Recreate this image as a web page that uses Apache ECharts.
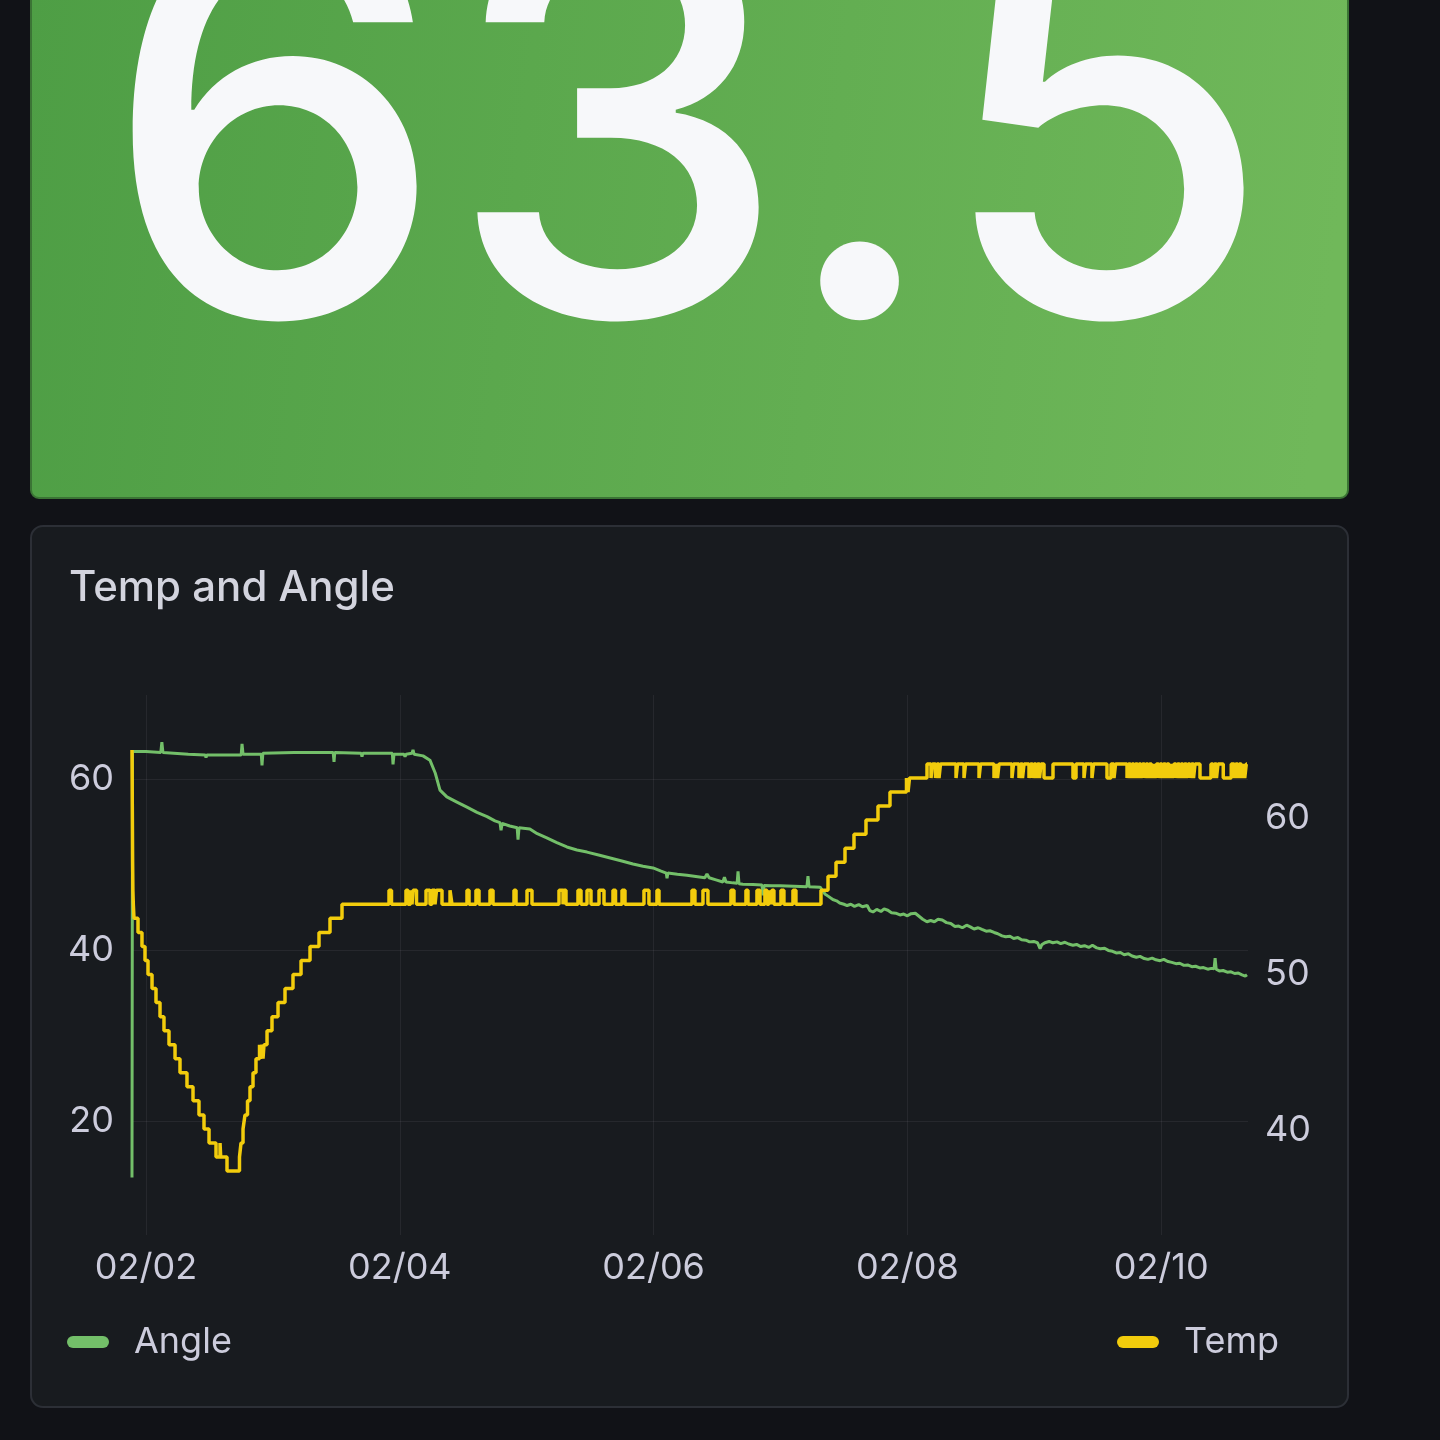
<!DOCTYPE html>
<html>
<head>
<meta charset="utf-8">
<script src="https://cdn.jsdelivr.net/npm/echarts@6/dist/echarts.min.js"></script>
<style>
html,body{margin:0;padding:0;background:#111217;}
#c{width:1440px;height:1440px;}
</style>
</head>
<body>
<div id="c"></div>
<script>
// ---- content ----
const statValue = '63.5';
const panelTitle = 'Temp and Angle';
const seriesNames = ['Angle', 'Temp'];
// x ticks: hours after 02/02 00:00
const xTickHours = [0, 48, 96, 144, 192];
const leftTicks = [20, 40, 60];
const rightTicks = [40, 50, 60];

// Angle (left axis): hours after 02/02 00:00 and values
const angleHours = [
  -2.65, -2.55, 0.0, 2.8, 3.0, 3.2, 8.0, 11.2, 11.35, 11.5, 15.0, 18.0, 18.16, 18.35,
  21.8, 21.94, 22.1, 28.0, 35.4, 35.56, 35.7, 40.7, 40.85, 41.0, 44.0, 46.6, 46.72, 46.9,
  48.8, 48.99, 49.2, 50.3, 50.5, 50.7, 52.4, 53.7, 54.7, 55.6, 56.9, 58.8, 60.7, 62.6,
  64.5, 66.0, 66.95, 67.15, 67.35, 68.8, 70.2, 70.36, 70.55,
  72.6, 74.0, 75.8, 77.7, 79.6, 81.5, 83.4, 85.6, 87.8, 90.0, 92.1, 94.0, 95.9, 97.3,
  98.4, 98.54, 98.7, 100.5, 102.3, 104.0, 105.7, 106.1, 106.5, 107.8, 109.1, 109.4, 109.7,
  111.0, 111.8, 111.97, 112.15, 112.9, 114.8, 116.5, 116.7, 116.9, 118.4, 119.9, 122.5,
  125.0, 125.2, 125.4, 127.5,
  128.0, 128.4, 129.0, 129.9, 130.6, 131.2, 132.0, 132.6, 133.3, 134.0, 134.8, 135.5,
  136.4, 136.9, 137.5, 138.2, 139.0, 139.6, 140.3, 141.0, 141.8, 142.6, 143.3, 144.0,
  144.7, 145.5, 146.2, 146.9, 147.7, 148.4, 149.1, 149.8, 150.6, 151.4, 152.2, 153.0,
  153.7, 154.4, 155.2, 155.9, 156.6, 157.4, 158.1, 158.9, 159.6, 160.4, 161.1, 161.9,
  162.6, 163.4, 164.1, 164.9, 165.6, 166.4, 167.1, 167.9, 168.6, 169.1, 169.4, 170.0,
  170.8, 171.5, 172.3, 173.0, 173.8, 174.5, 175.3, 176.0, 176.8, 177.5, 178.3, 179.0,
  179.8, 180.5, 181.3, 182.0, 182.8, 183.5, 184.3, 185.0, 185.8, 186.5, 187.3, 188.0,
  188.8, 189.5, 190.3, 191.0, 191.8, 192.5, 193.3, 194.0, 194.8, 195.5, 196.3, 197.0,
  197.8, 198.5, 199.3, 200.0, 200.8, 201.5, 202.0, 202.2, 202.4, 203.0, 203.7, 204.5,
  205.2, 205.9, 206.6, 207.3, 207.9, 208.23
];
const angleValues = [
  13.4, 63.2, 63.2, 63.1, 64.3, 63.1, 62.9, 62.8, 62.5, 62.8, 62.8, 62.8, 64.1, 62.9,
  62.9, 61.6, 63.0, 63.1, 63.1, 62.0, 63.1, 63.0, 62.6, 63.0, 63.0, 63.0, 61.7, 62.9,
  62.9, 62.6, 62.9, 63.0, 63.4, 62.9, 62.7, 62.2, 60.7, 58.7, 57.9, 57.3, 56.7, 56.1,
  55.6, 55.1, 54.9, 54.0, 54.8, 54.5, 54.3, 52.9, 54.3,
  54.15, 53.6, 53.1, 52.55, 52.05, 51.7, 51.45, 51.1, 50.75, 50.4, 50.05, 49.8, 49.6, 49.25,
  49.0, 48.4, 49.0, 48.85, 48.75, 48.6, 48.45, 48.9, 48.45, 48.2, 47.95, 48.5, 47.95,
  47.85, 47.8, 49.2, 47.75, 47.7, 47.65, 47.6, 46.4, 47.55, 47.5, 47.5, 47.45,
  47.4, 48.65, 47.4, 47.35,
  46.9, 46.55, 46.3, 45.9, 45.75, 45.5, 45.35, 45.2, 45.35, 45.1, 45.3, 45.05,
  45.2, 44.6, 44.45, 44.75, 44.5, 44.8, 44.65, 44.35, 44.3, 44.1, 44.2, 44.0,
  44.25, 44.3, 43.95, 43.6, 43.3, 43.45, 43.3, 43.6, 43.5, 43.2, 43.1, 42.75,
  42.8, 42.6, 42.9, 42.7, 42.45, 42.6, 42.4, 42.2, 42.25, 42.05, 41.9, 41.65,
  41.55, 41.6, 41.35, 41.45, 41.2, 41.15, 40.95, 41.0, 40.85, 40.15, 40.6, 40.85,
  41.0, 40.85, 40.95, 40.75, 40.9, 40.7, 40.55, 40.65, 40.4, 40.5, 40.3, 40.55,
  40.25, 40.15, 40.2, 39.95, 39.85, 39.65, 39.7, 39.45, 39.55, 39.3, 39.15, 39.25,
  39.0, 38.9, 39.05, 38.85, 38.75, 38.9, 38.65, 38.55, 38.4, 38.45, 38.2, 38.25,
  38.05, 38.1, 37.9, 37.95, 37.75, 37.85, 37.8, 39.05, 37.75, 37.55, 37.6, 37.4,
  37.45, 37.25, 37.3, 37.1, 36.95, 37.1
];

// Temp (right axis, step line): change points, hours after 02/02 00:00 and values
const tempHours = [
  -2.648, -2.59, -2.53, -2.48, -2.40, -2.27, -1.51, -0.76, -0.19, 0.38, 1.14, 1.89, 2.65,
  3.40, 4.35, 5.49, 6.43, 7.75, 8.89, 10.02, 10.97, 11.92, 13.24, 14.00, 14.13, 15.32,
  17.68, 17.97, 18.35, 18.72, 19.20, 19.67, 20.24, 20.80, 21.47, 21.66, 21.94, 22.13, 22.32,
  22.89, 23.83, 24.97, 26.29, 27.80, 29.32, 31.02, 32.72, 34.80, 37.07,
  45.96, 46.43, 49.17, 49.55, 50.03, 50.31, 50.50, 51.16, 52.96, 53.71, 54.09, 54.66,
  54.94, 55.98, 57.50, 57.87, 60.71, 61.09, 62.41, 62.98, 65.06, 65.63, 69.60, 69.98,
  72.06, 73.00, 78.11, 78.87, 78.96, 79.43, 81.70, 82.27, 83.41, 84.16, 85.68, 86.62,
  88.32, 88.80, 90.03, 90.59, 94.18, 95.12, 96.64, 97.02, 103.26, 103.82, 105.34, 106.28,
  110.63, 111.20, 113.47, 113.85, 115.55, 116.12, 117.06, 117.44, 117.82, 118.10, 118.38,
  118.76, 120.09, 120.65, 122.36, 122.92,
  127.66, 128.99, 130.50, 132.20, 133.90, 136.17, 138.44, 140.71, 143.83, 144.12, 144.40,
  147.71,
  148.47, 148.75, 149.32, 149.60, 149.98, 150.26, 153.20, 153.48, 154.71, 154.99, 157.55,
  157.83, 160.38, 160.67, 161.04, 161.33, 163.78, 164.07, 165.11, 165.39, 165.77, 166.06,
  167.00, 167.29, 167.67, 167.95, 168.33, 168.61, 168.99, 169.27, 169.84, 171.54, 175.32,
  175.89, 177.40, 177.68, 178.91, 179.20, 181.75, 182.51, 183.08, 183.37,
  185.54, 185.82, 186.20, 186.48, 186.86, 187.14, 187.52, 187.80, 188.18, 188.47, 188.85,
  189.13, 189.51, 189.79, 190.17, 190.46, 190.83, 191.12, 191.50, 191.78, 192.16, 192.44,
  192.82, 193.10, 193.48, 193.77, 194.14, 194.43, 194.81, 195.09, 195.47, 195.75, 196.13,
  196.41, 196.79, 197.08, 197.46, 197.74, 198.12, 198.40, 199.34, 201.42, 201.80, 202.08,
  202.46, 202.74, 203.74, 205.25, 205.82, 206.10, 206.48, 206.76, 207.14, 207.43, 207.80,
  208.09, 208.23
];
const tempValues = [
  64.4, 60.8, 57.2, 55.4, 54.5, 53.6, 52.7, 51.8, 50.9, 50.0, 49.1, 48.2, 47.3,
  46.4, 45.5, 44.6, 43.7, 42.8, 41.9, 41.0, 40.1, 39.2, 38.3, 39.2, 38.3, 37.4,
  38.3, 39.2, 40.1, 41.0, 41.9, 42.8, 43.7, 44.6, 45.5, 44.6, 45.5, 44.6, 45.5,
  46.4, 47.3, 48.2, 49.1, 50.0, 50.9, 51.8, 52.7, 53.6, 54.5,
  55.4, 54.5, 55.4, 54.5, 55.4, 54.5, 55.4, 54.5, 55.4, 54.5, 55.4, 54.5,
  55.4, 54.5, 55.4, 54.5, 55.4, 54.5, 55.4, 54.5, 55.4, 54.5, 55.4, 54.5,
  55.4, 54.5, 55.4, 54.5, 55.4, 54.5, 55.4, 54.5, 55.4, 54.5, 55.4, 54.5,
  55.4, 54.5, 55.4, 54.5, 55.4, 54.5, 55.4, 54.5, 55.4, 54.5, 55.4, 54.5,
  55.4, 54.5, 55.4, 54.5, 55.4, 54.5, 55.4, 54.5, 55.4, 54.5, 55.4,
  54.5, 55.4, 54.5, 55.4, 54.5,
  55.4, 56.3, 57.2, 58.1, 59.0, 59.9, 60.8, 61.7, 62.6, 61.7, 62.6,
  63.5,
  62.6, 63.5, 62.6, 63.5, 62.6, 63.5, 62.6, 63.5, 62.6, 63.5, 62.6,
  63.5, 62.6, 63.5, 62.6, 63.5, 62.6, 63.5, 62.6, 63.5, 62.6, 63.5,
  62.6, 63.5, 62.6, 63.5, 62.6, 63.5, 62.6, 63.5, 62.6, 63.5, 62.6,
  63.5, 62.6, 63.5, 62.6, 63.5, 62.6, 63.5, 62.6, 63.5,
  62.6, 63.5, 62.6, 63.5, 62.6, 63.5, 62.6, 63.5, 62.6, 63.5, 62.6,
  63.5, 62.6, 63.5, 62.6, 63.5, 62.6, 63.5, 62.6, 63.5, 62.6, 63.5,
  62.6, 63.5, 62.6, 63.5, 62.6, 63.5, 62.6, 63.5, 62.6, 63.5, 62.6,
  63.5, 62.6, 63.5, 62.6, 63.5, 62.6, 63.5, 62.6, 63.5, 62.6, 63.5,
  62.6, 63.5, 62.6, 63.5, 62.6, 63.5, 62.6, 63.5, 62.6, 63.5, 62.6,
  63.5, 63.5
];

// ---- build ----
const HOUR = 3600000;
const base = new Date(2025, 1, 2, 0, 0, 0).getTime();
const toTs = h => base + h * HOUR;
const angleData = angleHours.map((h, i) => [toTs(h), angleValues[i]]);
const tempData = tempHours.map((h, i) => [toTs(h), tempValues[i]]);
const xTicks = xTickHours.map(toTs);

const FONT = 'Inter, "Noto Sans", sans-serif';
const TXT = '#ccccdc';
const GRID = 'rgba(204,204,220,0.08)';
const GREEN = '#73bf69';
const YELLOW = '#f2cc0c';
const pill = 'path://M6,0 L36,0 A6,6 0 0 1 36,12 L6,12 A6,6 0 0 1 6,0 Z';

const chart = echarts.init(document.getElementById('c'), null, { renderer: 'canvas' });
chart.setOption({
  animation: false,
  backgroundColor: '#111217',
  graphic: [
    {
      type: 'rect', z: -10,
      shape: { x: 31, y: -20, width: 1317, height: 518, r: 8 },
      style: {
        fill: new echarts.graphic.LinearGradient(0, 0, 1, 0.3, [
          { offset: 0, color: '#4e9e45' }, { offset: 1, color: '#70b85a' }
        ]),
        stroke: '#3b7435', lineWidth: 2
      }
    },
    {
      type: 'text', z: 10, x: 688, y: 152,
      style: {
        text: statValue, fill: '#f7f8fa',
        font: '500 546px ' + FONT, align: 'center', verticalAlign: 'middle'
      }
    },
    {
      type: 'rect', z: -10,
      shape: { x: 31, y: 526, width: 1317, height: 881, r: 12 },
      style: { fill: '#181b1f', stroke: '#2c2f36', lineWidth: 2 }
    },
    {
      type: 'text', z: 10, x: 69, y: 588,
      style: {
        text: panelTitle, fill: '#d3d4de',
        font: '500 42px ' + FONT, align: 'left', verticalAlign: 'middle'
      }
    }
  ],
  grid: { left: 132, right: 192, top: 695, bottom: 205, containLabel: false },
  xAxis: {
    type: 'value',
    min: toTs(-2.648), max: toTs(208.42),
    axisLine: { show: false },
    axisTick: { show: false, customValues: xTicks },
    axisLabel: {
      customValues: xTicks,
      color: TXT, fontSize: 36, fontFamily: FONT, margin: 15, lineHeight: 36,
      formatter: v => {
        const d = new Date(v);
        const mm = String(d.getMonth() + 1).padStart(2, '0');
        const dd = String(d.getDate()).padStart(2, '0');
        return mm + '/' + dd;
      }
    },
    splitLine: { show: true, lineStyle: { color: GRID, width: 1 } }
  },
  yAxis: [
    {
      type: 'value', position: 'left', min: 6.67, max: 69.82,
      axisLine: { show: false },
      axisTick: { show: false, customValues: leftTicks },
      axisLabel: { customValues: leftTicks, color: TXT, fontSize: 36, fontFamily: FONT, margin: 18 },
      splitLine: { show: true, lineStyle: { color: GRID, width: 1 } }
    },
    {
      type: 'value', position: 'right', min: 33.3, max: 67.92,
      axisLine: { show: false },
      axisTick: { show: false, customValues: rightTicks },
      axisLabel: { customValues: rightTicks, color: TXT, fontSize: 36, fontFamily: FONT, margin: 17 },
      splitLine: { show: false }
    }
  ],
  legend: [
    {
      data: [seriesNames[0]], left: 67, top: 1324, padding: 0,
      icon: pill, itemWidth: 42, itemHeight: 12,
      textStyle: { color: TXT, fontSize: 36, fontFamily: FONT, lineHeight: 36, padding: [0, 0, 0, 20] }
    },
    {
      data: [seriesNames[1]], right: 161, top: 1324, padding: 0,
      icon: pill, itemWidth: 42, itemHeight: 12,
      textStyle: { color: TXT, fontSize: 36, fontFamily: FONT, lineHeight: 36, padding: [0, 0, 0, 20] }
    }
  ],
  series: [
    {
      name: seriesNames[0], type: 'line', yAxisIndex: 0, data: angleData,
      showSymbol: false, symbol: 'none', color: GREEN,
      lineStyle: { color: GREEN, width: 3 }
    },
    {
      name: seriesNames[1], type: 'line', yAxisIndex: 1, data: tempData, step: 'end',
      showSymbol: false, symbol: 'none', color: YELLOW,
      lineStyle: { color: YELLOW, width: 3.5 }
    }
  ]
});
</script>
</body>
</html>
